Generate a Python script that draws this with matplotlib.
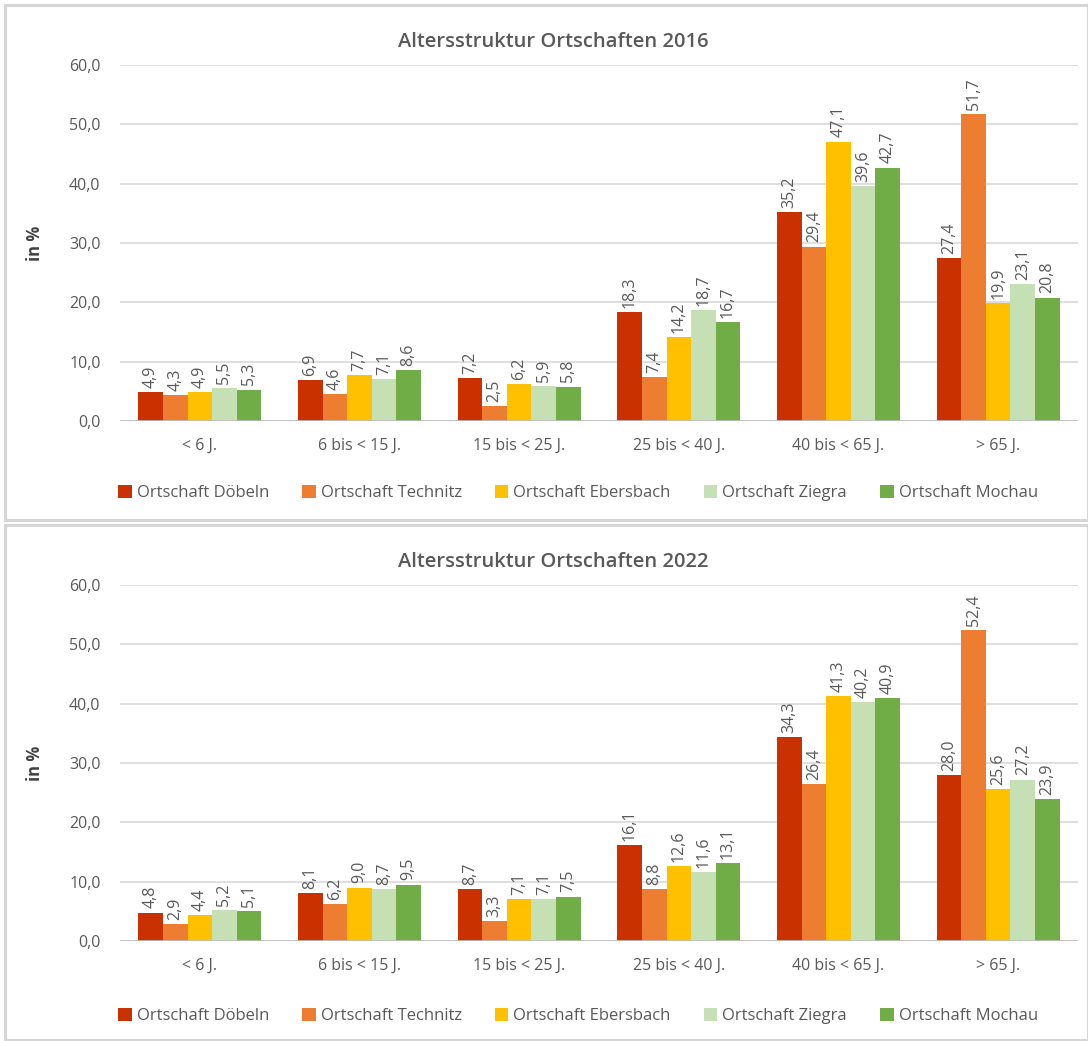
import matplotlib.pyplot as plt
from matplotlib.patches import Rectangle
import numpy as np

plt.rcParams['font.family'] = ['Open Sans', 'DejaVu Sans']

groups = ['< 6 J.', '6 bis < 15 J.', '15 bis < 25 J.', '25 bis < 40 J.', '40 bis < 65 J.', '> 65 J.']
places = ['Ortschaft Döbeln', 'Ortschaft Technitz', 'Ortschaft Ebersbach', 'Ortschaft Ziegra', 'Ortschaft Mochau']
colors = ['#C93200', '#ED7D31', '#FFC000', '#C5E0B4', '#70AD47']

# rows: places, columns: age groups
data_2016 = [
    [4.9, 6.9, 7.2, 18.3, 35.2, 27.4],
    [4.3, 4.6, 2.5, 7.4, 29.4, 51.7],
    [4.9, 7.7, 6.2, 14.2, 47.1, 19.9],
    [5.5, 7.1, 5.9, 18.7, 39.6, 23.1],
    [5.3, 8.6, 5.8, 16.7, 42.7, 20.8],
]
data_2022 = [
    [4.8, 8.1, 8.7, 16.1, 34.3, 28.0],
    [2.9, 6.2, 3.3, 8.8, 26.4, 52.4],
    [4.4, 9.0, 7.1, 12.6, 41.3, 25.6],
    [5.2, 8.7, 7.1, 11.6, 40.2, 27.2],
    [5.1, 9.5, 7.5, 13.1, 40.9, 23.9],
]

W, H = 1088, 1041
fig = plt.figure(figsize=(W / 100, H / 100), dpi=100)
grey = '#595959'


def fx(px):
    return px / W


def fy(py):
    return 1 - py / H


def panel(top, data, year, legend_y):
    # frame around each chart
    fig.patches.append(Rectangle((fx(5), fy(top + 515)), fx(1083), 515 / H,
                                 transform=fig.transFigure, fill=False,
                                 edgecolor='#D6D6D6', linewidth=2.2))
    ax = fig.add_axes([fx(120), fy(top + 416), fx(958), 356 / H])
    x = np.arange(len(groups))
    bw = 0.154
    for i, (name, vals) in enumerate(zip(places, data)):
        xs = x + (i - 2) * bw
        ax.bar(xs, vals, width=bw, color=colors[i], label=name, zorder=3)
        for xx, v in zip(xs, vals):
            ax.annotate(f'{v:.1f}'.replace('.', ','), (xx, v), xytext=(0, 3),
                        textcoords='offset points', rotation=90, ha='center',
                        va='bottom', fontsize=11.5, color=grey)
    ax.set_ylim(0, 60)
    ax.set_xlim(-0.5, len(groups) - 0.5)
    ax.set_yticks(np.arange(0, 61, 10))
    ax.set_yticklabels([f'{t:.1f}'.replace('.', ',') for t in np.arange(0, 61, 10)])
    ax.set_xticks(x)
    ax.set_xticklabels(groups)
    ax.tick_params(length=0, labelsize=11.5, labelcolor=grey, pad=12)
    ax.tick_params(axis='y', pad=14)
    for s in ax.spines.values():
        s.set_visible(False)
    ax.grid(axis='y', color='#D9D9D9', linewidth=1.2, zorder=0)
    ax.axhline(0, color='#BFBFBF', linewidth=1.2, zorder=4)
    ax.set_ylabel('in %', fontsize=12, fontweight='bold', color='#404040', labelpad=18)
    fig.text(fx(553), fy(top + 37), f'Altersstruktur Ortschaften {year}', ha='center',
             va='center', fontsize=14.5, fontweight='semibold', color=grey)
    ax.legend(loc='center', bbox_to_anchor=(fx(578), fy(legend_y)), bbox_transform=fig.transFigure,
              ncol=5, frameon=False, fontsize=12, handlelength=0.8, handleheight=0.8,
              handletextpad=0.3, columnspacing=2.0, labelcolor=grey)
    return ax


panel(5, data_2016, 2016, 493)
panel(525, data_2022, 2022, 1016)

fig.savefig('out.png', dpi=100, facecolor='white')
